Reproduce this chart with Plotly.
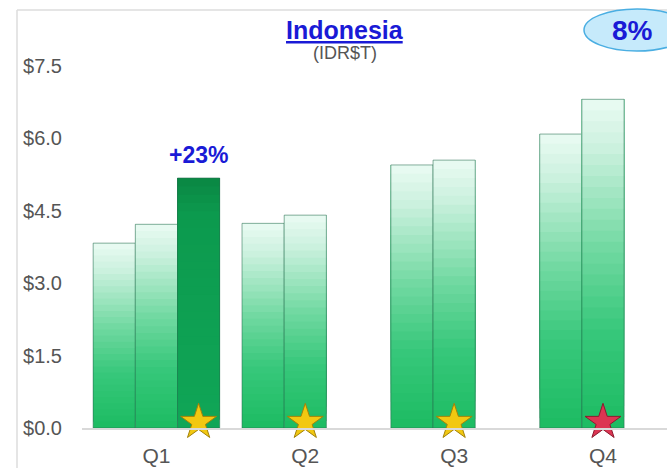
import plotly.graph_objects as go

# ---------------- data ----------------
categories = ["Q1", "Q2", "Q3", "Q4"]
series_a = [3.83, 4.24, 5.45, 6.09]
series_b = [4.22, 4.41, 5.55, 6.81]
series_c = [5.18, None, None, None]
growth_label = "+23%"
badge_label = "8%"
star_colors = ["#f2c811", "#f2c811", "#f2c811", "#dc3552"]
star_lines = ["#a3820a", "#a3820a", "#a3820a", "#8c1a2e"]
y_ticks = [0.0, 1.5, 3.0, 4.5, 6.0, 7.5]
y_ticktext = ["$%.1f" % v for v in y_ticks]

# ---------------- styling helpers ----------------
N = 30
BARGAP = 0.15
n_groups = 3
slot = (1 - BARGAP) / n_groups
x_idx = list(range(len(categories)))
STAR_LEVEL = 0.12
FONT = "Liberation Sans, Arial"


def hex2rgb(h):
    h = h.lstrip("#")
    return [int(h[i:i + 2], 16) for i in (0, 2, 4)]


def interp(stops, f):
    for (f0, c0), (f1, c1) in zip(stops[:-1], stops[1:]):
        if f0 <= f <= f1:
            t = (f - f0) / (f1 - f0) if f1 > f0 else 0
            a, b = hex2rgb(c0), hex2rgb(c1)
            return "rgb(%d,%d,%d)" % tuple(round(a[i] + (b[i] - a[i]) * t) for i in range(3))
    return stops[-1][1]


light_stops = [(0.0, "#1cbb62"), (0.3, "#38c87b"), (0.55, "#72d9a2"),
               (0.85, "#cbf1de"), (1.0, "#eafbf3")]
dark_stops = [(0.0, "#10a657"), (0.85, "#0c9a4e"), (1.0, "#0a8743")]

fig = go.Figure()

series_list = [(series_a, light_stops, "a"), (series_b, light_stops, "b"), (series_c, dark_stops, "c")]
for vals, stops, name in series_list:
    for k in range(N):
        base = [None if v is None else v * k / N for v in vals]
        hgt = [None if v is None else v * (N - k) / N for v in vals]
        fig.add_trace(go.Bar(
            x=x_idx, y=hgt, base=base, offsetgroup=name,
            marker=dict(color=interp(stops, (k + 0.5) / N), line=dict(width=0)),
            hoverinfo="skip", showlegend=False,
        ))
    fig.add_trace(go.Bar(
        x=x_idx, y=vals, offsetgroup=name,
        marker=dict(color="rgba(0,0,0,0)", line=dict(width=1, color="rgba(40,110,80,0.55)")),
        hoverinfo="skip", showlegend=False,
    ))

# stars at the last bar of every group
star_x = []
for i in x_idx:
    last = 2 if series_c[i] is not None else 1
    star_x.append(i + (last - 1) * slot)
fig.add_trace(go.Scatter(
    x=star_x, y=[STAR_LEVEL] * len(categories), mode="markers",
    marker=dict(symbol="star", size=27, color=star_colors,
                line=dict(color=star_lines, width=1)),
    cliponaxis=False, hoverinfo="skip", showlegend=False,
))

# growth label
fig.add_annotation(x=0 + slot, y=series_c[0], text="<b>" + growth_label + "</b>",
                   showarrow=False, yanchor="bottom", xanchor="center", yshift=8,
                   font=dict(family=FONT, size=23, color="#1a1ad6"))

L, R, T, B = 82, 0, 66, 40
W, H = 667, 468
pw, ph = W - L - R, H - T - B


def px(x):
    return (x - L) / pw


def py(y):
    return (H - B - y) / ph


# title
fig.add_annotation(x=px(345), y=py(30), xref="paper", yref="paper", xanchor="center", yanchor="middle",
                   text="<b><u>Indonesia</u></b>", showarrow=False,
                   font=dict(family=FONT, size=25, color="#1a1ad6"))
fig.add_annotation(x=px(345), y=py(53), xref="paper", yref="paper", xanchor="center", yanchor="middle",
                   text="(IDR$T)", showarrow=False,
                   font=dict(family=FONT, size=18, color="#555555"))

# frame
fig.add_shape(type="line", xref="paper", yref="paper", x0=px(17), x1=px(17), y0=py(10), y1=py(470),
              line=dict(color="#dddddd", width=1.5))
fig.add_shape(type="line", xref="paper", yref="paper", x0=px(17), x1=px(670), y0=py(10), y1=py(10),
              line=dict(color="#dddddd", width=1.5))

# badge
fig.add_shape(type="circle", xref="paper", yref="paper", x0=px(584), x1=px(690), y0=py(9), y1=py(51),
              fillcolor="#c6eafb", line=dict(color="#4aaee2", width=1.5))
fig.add_annotation(x=px(632), y=py(31), xref="paper", yref="paper", xanchor="center", yanchor="middle",
                   text="<b>" + badge_label + "</b>", showarrow=False,
                   font=dict(family=FONT, size=28, color="#1a1ad6"))

fig.update_layout(
    width=W, height=H,
    margin=dict(l=L, r=R, t=T, b=B),
    paper_bgcolor="white", plot_bgcolor="white",
    barmode="group", bargap=BARGAP, bargroupgap=0,
    showlegend=False,
    font=dict(family=FONT, color="#555555"),
    xaxis=dict(range=[-0.5, 3.43], tickmode="array", tickvals=x_idx, ticktext=categories,
               showgrid=False, zeroline=False, showline=True, linecolor="#d9d9d9", linewidth=2,
               ticks="outside", ticklen=8, tickcolor="rgba(0,0,0,0)",
               tickfont=dict(size=21, color="#555555")),
    yaxis=dict(range=[0, 7.5], tickmode="array", tickvals=y_ticks, ticktext=y_ticktext,
               showgrid=False, zeroline=False, showline=False,
               ticks="outside", ticklen=15, tickcolor="rgba(0,0,0,0)",
               tickfont=dict(size=20, color="#555555")),
)

fig.write_html("out.html", config={"displayModeBar": False},
               post_script="document.body.style.margin='0px';")
